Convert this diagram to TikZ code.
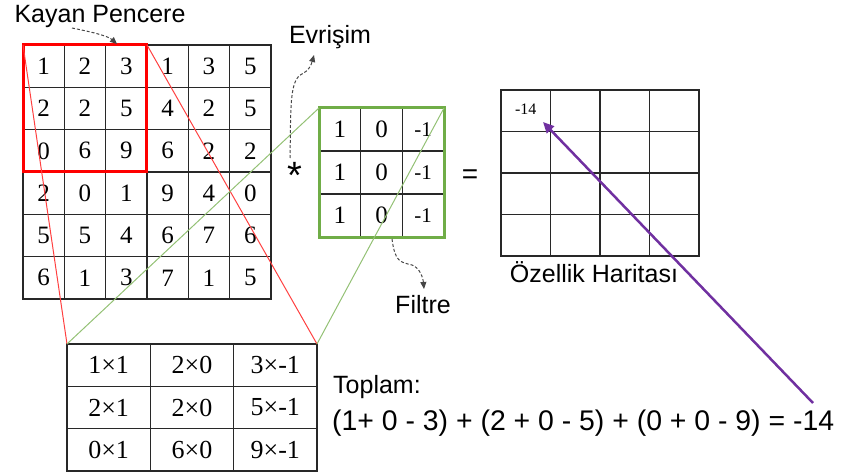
\documentclass[tikz,border=0pt]{standalone}
\usepackage{fontspec}
\setmainfont{Liberation Serif}
\newfontfamily\lblfont{Liberation Sans}
\usetikzlibrary{arrows.meta,fit}
\definecolor{winred}{RGB}{255,0,0}
\definecolor{wingreen}{RGB}{112,173,71}
\definecolor{winpurple}{RGB}{112,48,160}
\definecolor{dashgray}{RGB}{70,70,70}
\definecolor{gridcol}{RGB}{40,40,40}
\tikzset{
  incell/.style={minimum width=41.33pt, minimum height=42.33pt, inner sep=0pt, outer sep=0pt, font=\fontsize{25}{29}\selectfont},
  fcell/.style={minimum width=41.67pt, minimum height=43pt, inner sep=0pt, outer sep=0pt, font=\fontsize{25}{29}\selectfont},
  mcell/.style={minimum width=49.5pt, minimum height=41.5pt, inner sep=0pt, outer sep=0pt},
  bcell/.style={minimum width=83.33pt, minimum height=42.33pt, inner sep=0pt, outer sep=0pt, font=\fontsize{26}{30}\selectfont},
  gridline/.style={draw=gridcol, line width=1.2pt},
  lbl/.style={font=\lblfont\fontsize{25}{30}\selectfont, inner sep=0pt},
  dasharrow/.style={draw=dashgray, dash pattern=on 3pt off 2pt, line width=1pt, -{Triangle[length=7pt,width=6pt]}},
  thinred/.style={draw=winred!75, line width=1pt},
  thingreen/.style={draw=wingreen!75, line width=1pt},
}
\begin{document}
\begin{tikzpicture}[x=1pt,y=-1pt]
\useasboundingbox (0,0) rectangle (865,476);
% input matrix
\foreach \row [count=\i] in {{1,2,3,1,3,5},{2,2,5,4,2,5},{0,6,9,6,2,2},{2,0,1,9,4,0},{5,5,4,6,7,6},{6,1,3,7,1,5}} {
  \foreach \v [count=\j] in \row {
    \node[incell] (a-\i-\j) at ({23+41.33*(\j-0.5)},{45+42.33*(\i-0.5)}) {\v};
  }
}
\draw[gridline] (a-1-1.north west) rectangle (a-6-6.south east);
\foreach \k in {1,...,5} {
  \draw[gridline] (a-1-\k.north east) -- (a-6-\k.south east);
  \draw[gridline] (a-\k-1.south west) -- (a-\k-6.south east);
}
% filter
\foreach \i in {1,2,3} {
  \node[fcell] (f-\i-1) at ({319+41.67*0.5},{108+43*(\i-0.5)}) {1};
  \node[fcell] (f-\i-2) at ({319+41.67*1.5},{108+43*(\i-0.5)}) {0};
  \node[fcell,font=\fontsize{21}{25}\selectfont] (f-\i-3) at ({319+41.67*2.5},{108+43*(\i-0.5)}) {-1};
}
\foreach \k in {1,2} {
  \draw[gridline] (f-1-\k.north east) -- (f-3-\k.south east);
  \draw[gridline] (f-\k-1.south west) -- (f-\k-3.south east);
}
% feature map
\foreach \i in {1,2,3,4} {
  \foreach \j in {1,2,3,4} {
    \node[mcell] (m-\i-\j) at ({501+49.5*(\j-0.5)},{90+41.5*(\i-0.5)}) {};
  }
}
\draw[gridline] (m-1-1.north west) rectangle (m-4-4.south east);
\foreach \k in {1,2,3} {
  \draw[gridline] (m-1-\k.north east) -- (m-4-\k.south east);
  \draw[gridline] (m-\k-1.south west) -- (m-\k-4.south east);
}
\node[font=\fontsize{16}{19}\selectfont, inner sep=0pt] (m14) at ([yshift=2pt]m-1-1.center) {-14};
% bottom table
\foreach \row [count=\i] in {{1×1,2×0,3×-1},{2×1,2×0,5×-1},{0×1,6×0,9×-1}} {
  \foreach \v [count=\j] in \row {
    \node[bcell] (b-\i-\j) at ({67+83.33*(\j-0.5)},{344+42.33*(\i-0.5)}) {\v};
  }
}
\draw[gridline] (b-1-1.north west) rectangle (b-3-3.south east);
\foreach \k in {1,2} {
  \draw[gridline] (b-1-\k.north east) -- (b-3-\k.south east);
  \draw[gridline] (b-\k-1.south west) -- (b-\k-3.south east);
}
% group boxes
\node[fit=(a-1-1)(a-3-3), inner sep=0pt, outer sep=0pt, draw=winred, line width=3pt] (window) {};
\node[fit=(f-1-1)(f-3-3), inner sep=0pt, outer sep=0pt, draw=wingreen, line width=3pt] (filter) {};
\node[fit=(b-1-1)(b-3-3), inner sep=0pt, outer sep=0pt] (btab) {};
% projection lines
\draw[thinred] (window.north west) -- (btab.north west);
\draw[thinred] (window.north east) -- (btab.north east);
\draw[thingreen] (filter.north west) -- (btab.north west);
\draw[thingreen] (filter.north east) -- (btab.north east);
% operators
\node[font=\lblfont\fontsize{38}{40}\selectfont, inner sep=0pt, anchor=base] (star) at (295,188) {*};
\node[font=\lblfont\fontsize{28}{32}\selectfont, inner sep=0pt, anchor=base] (eq) at (470,183) {=};
% labels
\node[lbl] (kayan) at (100,16) {Kayan Pencere};
\node[lbl] (evrisim) at (330,37) {Evrişim};
\node[lbl] (filtre) at (423,305) {Filtre};
\node[lbl] (ozellik) at (594,272) {Özellik Haritası};
\node[lbl, anchor=west] (toplam) at (333,387) {Toplam:};
\node[font=\lblfont\fontsize{28.4}{32}\selectfont, inner sep=0pt, anchor=west] (denk) at (332,423) {(1+ 0 - 3) + (2 + 0 - 5) + (0 + 0 - 9) = -14};
% dashed arrows
\coordinate (k0) at (72,28);
\coordinate (k1) at (117,44);
\draw[dasharrow] (k0) .. controls (92,32) and (108,36) .. (k1);
\coordinate (e0) at (290,158);
\coordinate (e1) at (314,55);
\draw[dasharrow] (e0) .. controls (291,110) and (289,80) .. (302,74) .. controls (308,71) and (311,66) .. (e1);
\coordinate (fl0) at (392,239);
\coordinate (fl1) at (424,289);
\draw[dasharrow] (fl0) .. controls (395,262) and (400,262) .. (412,265) .. controls (420,268) and (423,278) .. (fl1);
% purple arrow
\coordinate (p0) at (813,403);
\coordinate (p1) at (543,122);
\draw[winpurple, line width=2.5pt, -{Triangle[length=11pt,width=10pt]}] (p0) -- (p1);
\end{tikzpicture}
\end{document}
